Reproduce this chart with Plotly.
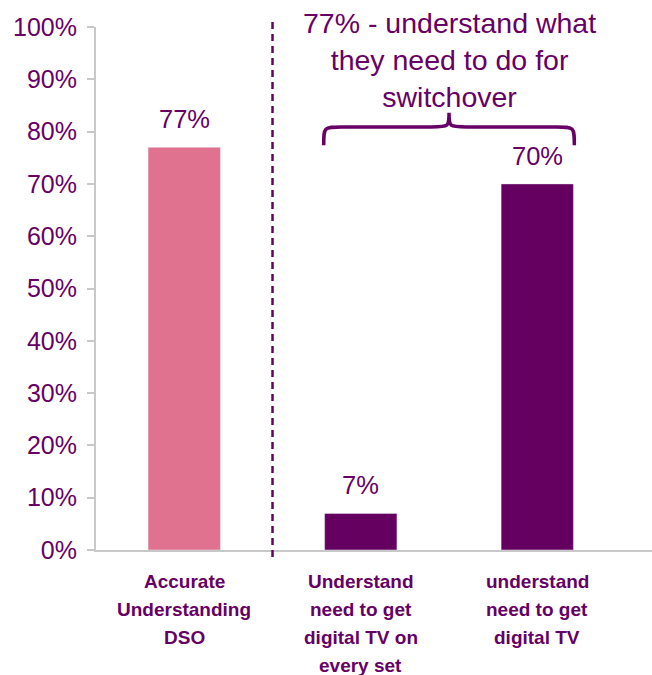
import plotly.graph_objects as go

# Survey results
categories = ["Accurate<br>Understanding<br>DSO",
              "Understand<br>need to get<br>digital TV on<br>every set",
              "understand<br>need to get<br>digital TV"]
values = [77, 7, 70]
bar_colors = ["#E0718F", "#660060", "#660060"]
y_ticks = [0, 10, 20, 30, 40, 50, 60, 70, 80, 90, 100]
y_tick_labels = [f"{v}%" for v in y_ticks]
bracket_text = "77% - understand what<br>they need to do for<br>switchover"

TEXT = "#660066"
x_pos = list(range(len(categories)))

fig = go.Figure(go.Bar(
    x=x_pos, y=values, marker_color=bar_colors, width=0.41,
    hoverinfo="skip",
))

annotations = []
# value labels above bars
for xi, v in zip(x_pos, values):
    annotations.append(dict(
        x=xi, y=v, xref="x", yref="y", text=f"{v}%", showarrow=False,
        yanchor="bottom", yshift=12,
        font=dict(family="Arial, Liberation Sans, sans-serif", size=25.5, color=TEXT),
    ))
# category labels, one annotation per line for even spacing
for xi, label in zip(x_pos, categories):
    for i, line in enumerate(label.split("<br>")):
        annotations.append(dict(
            x=xi, y=0, xref="x", yref="y", text=f"<b>{line}</b>", showarrow=False,
            yanchor="middle", yshift=-31 - 28 * i,
            font=dict(family="Liberation Sans Narrow, Arial Narrow, sans-serif",
                      size=19, color=TEXT),
        ))
# bracket caption
annotations.append(dict(
    x=1.5, y=0.937, xref="x", yref="paper", text=bracket_text, showarrow=False,
    yanchor="middle", align="center",
    font=dict(family="Arial, Liberation Sans, sans-serif", size=28.5, color=TEXT),
))

# curly brace over the two right-hand bars (data coordinates)
xl, xr, xm = 0.79, 2.21, 1.5
yb, yh, yt = 77.4, 80.9, 83.6
dx = 0.1
brace = (
    f"M {xl},{yb} C {xl},{yh} {xl},{yh} {xl+dx},{yh} "
    f"L {xm-dx},{yh} C {xm},{yh} {xm},{yh} {xm},{yt} "
    f"C {xm},{yh} {xm},{yh} {xm+dx},{yh} "
    f"L {xr-dx},{yh} C {xr},{yh} {xr},{yh} {xr},{yb}"
)

shapes = [
    dict(type="line", xref="x", yref="paper", x0=0.5, x1=0.5, y0=-0.0134, y1=1.0096,
         line=dict(color=TEXT, width=2.5, dash="7px,5px")),
    dict(type="path", xref="x", yref="y", path=brace,
         line=dict(color=TEXT, width=3.5)),
]

fig.update_layout(
    width=652, height=675,
    margin=dict(l=96, r=0, t=27, b=125),
    plot_bgcolor="white", paper_bgcolor="white",
    showlegend=False,
    annotations=annotations,
    shapes=shapes,
    xaxis=dict(
        range=[-0.5, 2.65], showticklabels=False, ticks="", showgrid=False,
        zeroline=False, showline=True, linecolor="#C8C8C8", linewidth=2,
    ),
    yaxis=dict(
        range=[0, 100], tickvals=y_ticks, ticktext=y_tick_labels,
        ticks="outside", ticklen=7, tickcolor="#C8C8C8", tickwidth=2,
        showgrid=False, zeroline=False, showline=True, linecolor="#C8C8C8", linewidth=2,
        tickfont=dict(family="Arial, Liberation Sans, sans-serif", size=25, color=TEXT),
        ticklabelstandoff=5,
    ),
)

fig.write_html("out.html")
